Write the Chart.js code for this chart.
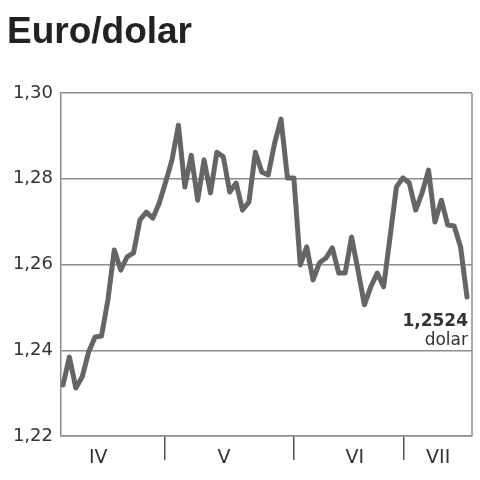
<!DOCTYPE html>
<html><head><meta charset="utf-8">
<script src="https://cdn.jsdelivr.net/npm/chart.js@4/dist/chart.umd.min.js"></script>
<style>html,body{margin:0;padding:0;background:#fff}#wrap{width:480px;height:480px;position:relative}</style>
</head><body><div id="wrap"><canvas id="c" width="480" height="480"></canvas></div>
<script>
const chartTitle = 'Euro/dolar';
const rates = [
  1.2319, 1.2384, 1.2312, 1.2338, 1.2396, 1.2431, 1.2433, 1.2517, 1.2634, 1.2587,
  1.2618, 1.2627, 1.2704, 1.2722, 1.2708, 1.2743, 1.2792, 1.2844, 1.2925, 1.2781,
  1.2855, 1.2750, 1.2844, 1.2767, 1.2862, 1.2851, 1.2769, 1.2790, 1.2727, 1.2746,
  1.2862, 1.2816, 1.2809, 1.2883, 1.2939, 1.2802, 1.2802, 1.2599, 1.2641, 1.2564,
  1.2604, 1.2615, 1.2639, 1.2580, 1.2580, 1.2664, 1.2587, 1.2506, 1.2548, 1.2580,
  1.2548, 1.2664, 1.2781, 1.2802, 1.2790, 1.2727, 1.2767, 1.2820, 1.2699, 1.2750,
  1.2692, 1.2690, 1.2641, 1.2524
];
const yTicks = [1.22, 1.24, 1.26, 1.28, 1.30];
const months = ['IV', 'V', 'VI', 'VII'];
const monthCenters = [5.5, 25.1, 45.5, 58.5];
const monthBounds = [15.9, 36.0, 53.2];
const lastLabel = '1,2524';
const unitLabel = 'dolar';

const GRID = '#8c8c8c';
const TEXT = '#333333';

const deco = {
  id: 'deco',
  beforeDatasetsDraw(chart) {
    const a = chart.chartArea, ctx = chart.ctx;
    ctx.save();
    ctx.strokeStyle = GRID;
    ctx.lineWidth = 1.5;
    ctx.beginPath();
    ctx.moveTo(a.right, a.top);
    ctx.lineTo(a.right, a.bottom);
    ctx.stroke();
    ctx.restore();
  },
  afterDatasetsDraw(chart) {
    const ctx = chart.ctx;
    const xs = chart.scales.x, ys = chart.scales.y;
    const n = rates.length - 1;
    const px = xs.getPixelForValue(n) + 1;
    const py = ys.getPixelForValue(rates[n]);
    ctx.save();
    ctx.fillStyle = TEXT;
    ctx.textAlign = 'right';
    ctx.textBaseline = 'alphabetic';
    ctx.font = 'bold 17px "DejaVu Sans"';
    ctx.fillText(lastLabel, px, py + 29);
    ctx.font = '17px "DejaVu Sans"';
    ctx.fillText(unitLabel, px, py + 48);
    ctx.fillStyle = '#222';
    ctx.textAlign = 'left';
    ctx.font = 'bold 37px "Liberation Sans"';
    ctx.fillText(chartTitle, 7, 43);
    ctx.restore();
  }
};

new Chart(document.getElementById('c'), {
  type: 'line',
  data: {
    datasets: [{
      data: rates.map((v, i) => ({ x: i, y: v })),
      borderColor: '#656565',
      borderWidth: 5,
      pointRadius: 0,
      tension: 0,
      borderJoinStyle: 'round',
      borderCapStyle: 'round'
    }]
  },
  options: {
    responsive: false,
    animation: false,
    devicePixelRatio: 1,
    layout: { padding: { top: 93, right: 8, left: 0, bottom: 0 } },
    plugins: { legend: { display: false }, tooltip: { enabled: false }, title: { display: false } },
    scales: {
      x: {
        type: 'linear',
        min: -0.31,
        max: 63.78,
        afterBuildTicks: s => {
          s.ticks = monthCenters.concat(monthBounds).sort((a, b) => a - b).map(v => ({ value: v }));
        },
        afterFit: s => { s.height = 44; },
        grid: {
          drawOnChartArea: false,
          tickLength: 24,
          lineWidth: 1.5,
          color: c => (c.tick && monthBounds.includes(c.tick.value)) ? '#555' : 'rgba(0,0,0,0)'
        },
        border: { display: true, color: GRID, width: 1.5 },
        ticks: {
          autoSkip: false,
          maxRotation: 0,
          minRotation: 0,
          padding: -13,
          color: TEXT,
          font: { family: 'DejaVu Sans', size: 19 },
          callback: v => {
            const k = monthCenters.indexOf(v);
            return k >= 0 ? months[k] : '';
          }
        }
      },
      y: {
        min: 1.22,
        max: 1.30,
        afterBuildTicks: s => { s.ticks = yTicks.map(v => ({ value: v })); },
        afterFit: s => { s.width = 61; },
        grid: { drawTicks: false, color: GRID, lineWidth: 1.5 },
        border: { display: true, color: GRID, width: 1.5 },
        ticks: {
          padding: 8,
          color: TEXT,
          font: { family: 'DejaVu Sans', size: 18 },
          callback: v => v.toFixed(2).replace('.', ',')
        }
      }
    }
  },
  plugins: [deco]
});
</script></body></html>
